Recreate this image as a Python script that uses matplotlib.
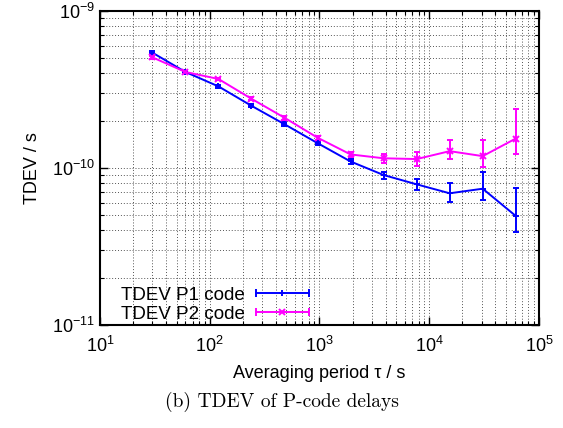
import numpy as np
import matplotlib
matplotlib.use('Agg')
import matplotlib.pyplot as plt
from matplotlib.lines import Line2D
from matplotlib.legend_handler import HandlerBase
from matplotlib.ticker import LogLocator, NullFormatter

plt.rcParams['font.family'] = ['Liberation Sans', 'DejaVu Sans']
plt.rcParams['mathtext.fontset'] = 'custom'
plt.rcParams['mathtext.rm'] = 'Liberation Sans'
plt.rcParams['mathtext.it'] = 'Liberation Sans'

# averaging periods (s)
tau = [30, 60, 120, 240, 480, 960, 1920, 3840, 7680, 15360, 30720, 61440]

# TDEV P1 code
p1 = [5.43e-10, 4.09e-10, 3.31e-10, 2.49e-10, 1.90e-10, 1.44e-10,
      1.10e-10, 9.02e-11, 7.87e-11, 6.90e-11, 7.38e-11, 4.95e-11]
p1_hi = [5.55e-10, 4.17e-10, 3.38e-10, 2.55e-10, 1.95e-10, 1.49e-10,
         1.135e-10, 9.47e-11, 8.51e-11, 7.99e-11, 9.39e-11, 7.46e-11]
p1_lo = [5.31e-10, 4.01e-10, 3.24e-10, 2.43e-10, 1.85e-10, 1.40e-10,
         1.06e-10, 8.51e-11, 7.24e-11, 6.05e-11, 6.25e-11, 3.90e-11]

# TDEV P2 code
p2 = [5.07e-10, 4.09e-10, 3.69e-10, 2.76e-10, 2.09e-10, 1.56e-10,
      1.22e-10, 1.153e-10, 1.14e-10, 1.28e-10, 1.19e-10, 1.54e-10]
p2_hi = [5.18e-10, 4.17e-10, 3.77e-10, 2.83e-10, 2.15e-10, 1.61e-10,
         1.27e-10, 1.234e-10, 1.259e-10, 1.50e-10, 1.508e-10, 2.39e-10]
p2_lo = [4.96e-10, 4.01e-10, 3.61e-10, 2.70e-10, 2.03e-10, 1.51e-10,
         1.18e-10, 1.076e-10, 1.035e-10, 1.14e-10, 1.01e-10, 1.23e-10]


class GnuplotErrHandler(HandlerBase):
    # horizontal line with end caps and the point marker in the middle
    def create_artists(self, legend, orig, xdescent, ydescent, width, height,
                       fontsize, trans):
        c = orig.get_color()
        y = height / 2 - ydescent
        x0, x1 = -xdescent, width - xdescent
        line = Line2D([x0, x1], [y, y], color=c, lw=1.4)
        caps = Line2D([x0, x1], [y, y], color=c, lw=0, marker='|', ms=6, mew=1.4)
        mid = Line2D([(x0 + x1) / 2], [y], color=c, lw=0,
                     marker=orig.get_marker(), ms=orig.get_markersize(), mew=1.4)
        for a in (line, caps, mid):
            a.set_transform(trans)
        return [line, caps, mid]


fig = plt.figure(figsize=(5.63, 4.28), dpi=100)
ax = fig.add_axes([0.1776, 0.2407, 0.7797, 0.7336])

err1 = [np.array(p1) - np.array(p1_lo), np.array(p1_hi) - np.array(p1)]
err2 = [np.array(p2) - np.array(p2_lo), np.array(p2_hi) - np.array(p2)]

e1 = ax.errorbar(tau, p1, yerr=err1, color='#0000ff', lw=1.4, marker='+', ms=5,
                 mew=1.4, capsize=2.5, capthick=1.4, elinewidth=1.4)
e2 = ax.errorbar(tau, p2, yerr=err2, color='#ff00ff', lw=1.4, marker='x', ms=4,
                 mew=1.4, capsize=2.5, capthick=1.4, elinewidth=1.4)

ax.set_xscale('log')
ax.set_yscale('log')
ax.set_xlim(10, 1e5)
ax.set_ylim(1e-11, 1e-9)

ax.xaxis.set_major_locator(LogLocator(base=10, numticks=10))
ax.xaxis.set_minor_locator(LogLocator(base=10, subs=np.arange(2, 10), numticks=20))
ax.yaxis.set_major_locator(LogLocator(base=10, numticks=10))
ax.yaxis.set_minor_locator(LogLocator(base=10, subs=np.arange(2, 10), numticks=20))
ax.xaxis.set_minor_formatter(NullFormatter())
ax.yaxis.set_minor_formatter(NullFormatter())

ax.grid(True, which='both', color='#555555', linestyle=(0, (1, 2)), lw=0.7)
ax.tick_params(which='both', direction='in', top=True, right=True,
               labelsize=13, color='black')
ax.tick_params(which='major', length=6, width=1)
ax.tick_params(which='minor', length=3, width=0.8)
ax.tick_params(axis='x', pad=8)
for s in ax.spines.values():
    s.set_linewidth(1.5)

ax.set_xlabel('Averaging period τ / s', fontsize=13, labelpad=6)
ax.set_ylabel('TDEV / s', fontsize=13, labelpad=8)

h1 = e1.lines[0]
h2 = e2.lines[0]
leg = ax.legend([h1, h2], ['TDEV P1 code', 'TDEV P2 code'],
                handler_map={Line2D: GnuplotErrHandler()},
                loc='lower left', bbox_to_anchor=(0.022, -0.028),
                markerfirst=False, frameon=False, fontsize=13.5,
                handlelength=2.8, handletextpad=0.6, borderaxespad=0.2,
                labelspacing=0.1)

fig.text(0.501, 0.06, '(b) TDEV of P-code delays', ha='center', va='center',
         fontsize=14, family=['cmr10', 'DejaVu Serif'])

fig.savefig('out.png', dpi=100)
